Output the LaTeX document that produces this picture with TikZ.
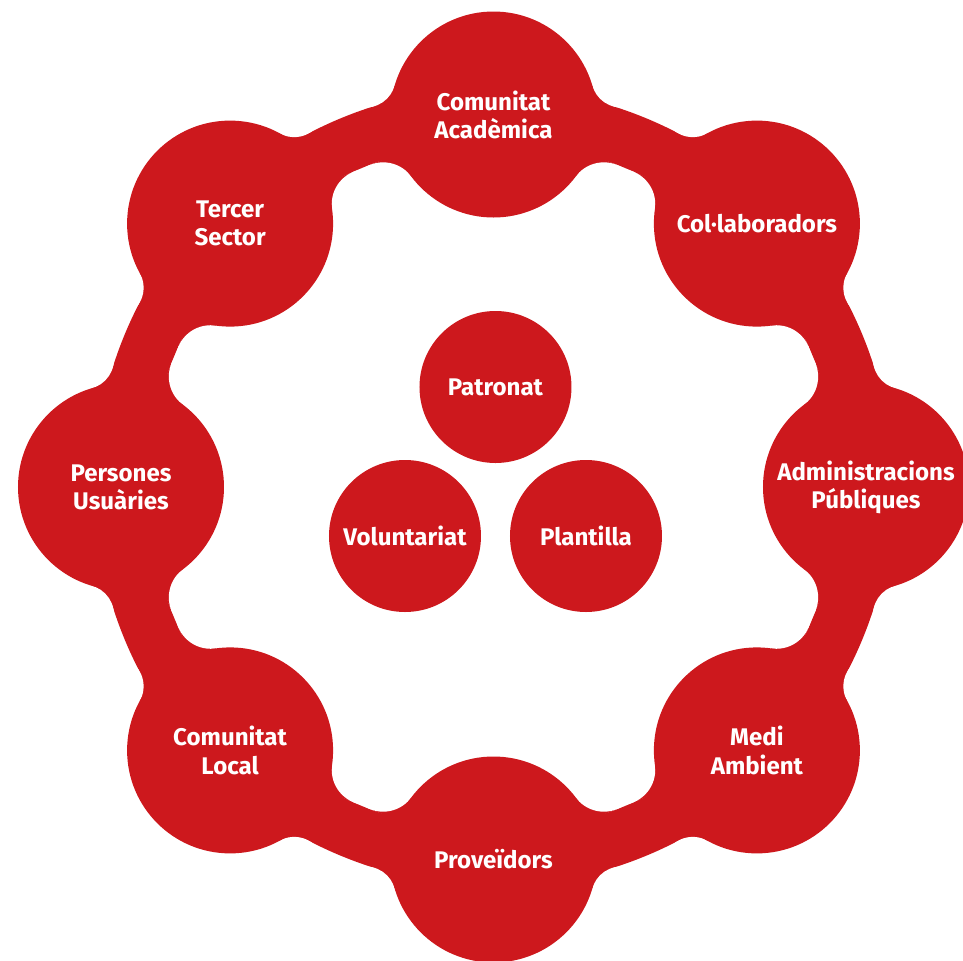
\documentclass[tikz,border=0pt]{standalone}
\usepackage{fontspec}
\setmainfont{Fira Sans}
\usetikzlibrary{calc}
\definecolor{vermell}{RGB}{205,24,29}
\tikzset{
  grup/.style={circle, fill=vermell, minimum size=2.06cm, inner sep=0pt,
    text=white, align=center, font=\fontsize{6.85}{8.0}\selectfont\bfseries},
  nucli/.style={grup, minimum size=1.52cm},
}
\begin{document}
\begin{tikzpicture}
    \useasboundingbox (-4.935,-4.73) rectangle (4.695,4.87);
    %ring sizes
    \def\Rg{3.725}
    \def\rc{1.03}
    \def\Ro{3.99}
    \def\Ri{3.45}
    \def\fout{0.30}
    \def\fin{0.35}
    \pgfmathsetmacro{\phio}{acos((\Rg^2+(\Ro+\fout)^2-(\rc+\fout)^2)/(2*\Rg*(\Ro+\fout)))}
    \pgfmathsetmacro{\phii}{acos((\Rg^2+(\Ri-\fin)^2-(\rc+\fin)^2)/(2*\Rg*(\Ri-\fin)))}
    %draw band
    \draw [vermell, line width={(\Ro-\Ri)*1cm}] (0,0) circle ({(\Ro+\Ri)/2});
    %draw fillets
    \foreach \a in {0,45,...,315}
        {%
            \foreach \s in {1,-1}
                {%
                    \coordinate (c) at (\a:\Rg);
                    \coordinate (fo) at ({\a+\s*\phio}:{\Ro+\fout});
                    \coordinate (fi) at ({\a+\s*\phii}:{\Ri-\fin});
                    \fill [vermell] ($(c)!{\rc/(\rc+\fout)}!(fo)$) -- (c) -- ({\a+\s*\phio}:\Ro) -- cycle;
                    \fill [vermell] ($(c)!{\rc/(\rc+\fin)}!(fi)$) -- (c) -- ({\a+\s*\phii}:\Ri) -- cycle;
                    \fill [white] (fo) circle (\fout);
                    \fill [white] (fi) circle (\fin);
                }
        }
    %draw outer groups
    \node [grup] (acad)    at (90:\Rg)  {Comunitat\\Acadèmica};
    \node [grup] (colab)   at (45:\Rg)  {Col·laboradors};
    \node [grup] (admin)   at (0:\Rg)   {Administracions\\Públiques};
    \node [grup] (medi)    at (-45:\Rg) {Medi\\Ambient};
    \node [grup] (prov)    at (-90:\Rg) {Proveïdors};
    \node [grup] (local)   at (-135:\Rg) {Comunitat\\Local};
    \node [grup] (usuaris) at (180:\Rg) {Persones\\Usuàries};
    \node [grup] (tercer)  at (135:\Rg) {Tercer\\Sector};
    %draw inner groups
    \node [nucli] (patronat)    at (0.02,1.0)    {Patronat};
    \node [nucli] (voluntariat) at (-0.885,-0.49) {Voluntariat};
    \node [nucli] (plantilla)   at (0.925,-0.49)  {Plantilla};
\end{tikzpicture}
\end{document}
